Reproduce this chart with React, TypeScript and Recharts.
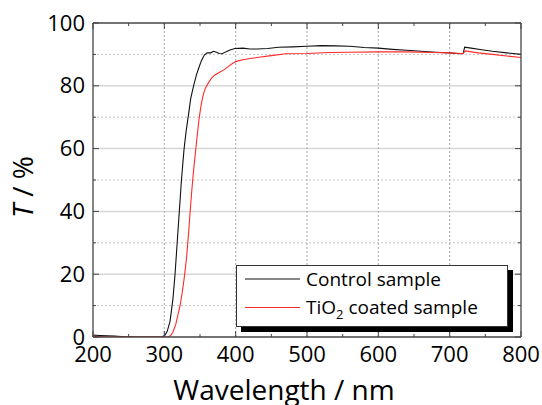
import React from 'react';
import { LineChart, Line, XAxis, YAxis, ReferenceLine, Legend } from 'recharts';

// ---- data ----
const controlWavelength = [200, 210, 220, 230, 240, 250, 260, 280, 297, 301, 304, 308, 312, 315, 318, 321, 324, 327.5, 330.5, 334, 337, 341, 345, 348, 352, 356, 360, 365, 369, 373, 377, 381, 386, 392, 399, 410, 420, 430, 445, 460, 480, 500, 520, 540, 560, 580, 600, 620, 640, 660, 680, 700, 715, 719, 721, 730, 745, 760, 780, 800];
const controlT = [0.6, 0.5, 0.4, 0.3, 0.15, 0.05, 0, 0, 0.1, 0.6, 1.8, 5, 12, 20, 30, 40, 50, 59.5, 65.5, 71, 76, 80, 83.5, 85.5, 88, 89.8, 90.5, 90.5, 91, 90.7, 90.3, 90.2, 90.8, 91.4, 91.9, 92, 91.7, 91.7, 91.9, 92.3, 92.4, 92.6, 92.8, 92.7, 92.6, 92.2, 92, 91.6, 91.3, 91, 90.7, 90.5, 90.2, 90.3, 92.3, 92, 91.5, 91, 90.5, 90];

const coatedWavelength = [200, 220, 240, 260, 280, 305, 309, 312, 316, 319, 322, 325, 328, 331, 334, 336, 339, 341, 343, 346, 349, 352, 355, 358, 362, 366, 370, 375, 380, 385, 390, 395, 400, 410, 420, 430, 450, 470, 500, 530, 560, 600, 640, 680, 700, 715, 719, 722, 740, 760, 780, 800];
const coatedT = [0.2, 0.1, 0, 0, 0, 0, 0.5, 1.5, 4, 7, 10, 14, 19, 25, 33, 39.5, 48, 53, 57.5, 64, 70, 74.5, 77.5, 79.5, 81, 82.4, 83.3, 84, 84.6, 85.3, 86.2, 87, 87.7, 88.3, 88.7, 89, 89.6, 90.2, 90.3, 90.6, 90.7, 90.8, 90.8, 90.6, 90.5, 90.3, 90.3, 91.1, 90.5, 90, 89.5, 89];

const xTicks = [200, 250, 300, 350, 400, 450, 500, 550, 600, 650, 700, 750, 800];
const yTicks = [0, 10, 20, 30, 40, 50, 60, 70, 80, 90, 100];
const xGridLines = [300, 400, 500, 600, 700];
const yMajorGrid = [20, 40, 60, 80];
const yMinorGrid = [10, 30, 50, 70, 90];
const seriesNames = ['Control sample', 'TiO2 coated sample'];
const seriesColors = ['#111111', '#ff2a2a'];

const controlData = controlWavelength.map((w, i) => ({ w, t: controlT[i] }));
const coatedData = coatedWavelength.map((w, i) => ({ w, t: coatedT[i] }));

const FONT = '"Open Sans", sans-serif';
const FRAME = '#444444';

const BottomTick = (props: any) => {
  const { x, y, payload } = props;
  const major = payload.value % 100 === 0;
  return (
    <g>
      <line x1={x} x2={x} y1={y} y2={y - (major ? 6 : 3)} stroke={FRAME} />
      {major && (
        <text x={x} y={y + 25} textAnchor="middle" fontSize={22} fontFamily={FONT} fill="#000">
          {payload.value}
        </text>
      )}
    </g>
  );
};

const TopTick = (props: any) => {
  const { x, y, payload } = props;
  const major = payload.value % 100 === 0;
  return <line x1={x} x2={x} y1={y} y2={y + (major ? 6 : 3)} stroke={FRAME} />;
};

const LeftTick = (props: any) => {
  const { x, y, payload } = props;
  const major = payload.value % 20 === 0;
  return (
    <g>
      <line x1={x} x2={x + (major ? 6 : 3)} y1={y} y2={y} stroke={FRAME} />
      {major && (
        <text x={x - 8} y={y + 7.5} textAnchor="end" fontSize={22} fontFamily={FONT} fill="#000">
          {payload.value}
        </text>
      )}
    </g>
  );
};

const RightTick = (props: any) => {
  const { x, y, payload } = props;
  const major = payload.value % 20 === 0;
  return <line x1={x} x2={x - (major ? 6 : 3)} y1={y} y2={y} stroke={FRAME} />;
};

const renderLabelName = (name: string) => {
  const m = name.match(/^(.*?)(\d)(.*)$/);
  if (!m) return name;
  return (
    <>
      <tspan>{m[1]}</tspan>
      <tspan fontSize={13} dy={5}>{m[2]}</tspan>
      <tspan dy={-5}>{m[3]}</tspan>
    </>
  );
};

const renderLegend = (props: any) => {
  const payload = props.payload || [];
  return (
    <div
      style={{
        width: 272,
        height: 62,
        boxSizing: 'border-box',
        border: '1px solid #333',
        background: '#fff',
        boxShadow: '5px 5px 0 #000',
      }}
    >
      <svg width={270} height={60} style={{ display: 'block' }}>
        {payload.map((entry: any, i: number) => {
          const cy = 13 + i * 28.5;
          return (
            <g key={i}>
              <line x1={8} x2={63} y1={cy} y2={cy} stroke={entry.color} strokeWidth={1} />
              <text x={69} y={cy + 6.5} fontSize={19} fontFamily={FONT} fill="#000">
                {renderLabelName(String(entry.value))}
              </text>
            </g>
          );
        })}
      </svg>
    </div>
  );
};

export default function App() {
  return (
    <div style={{ position: 'absolute', left: 0, top: 0, background: '#fff' }}>
      <LineChart width={542} height={405} margin={{ top: 0, right: 0, bottom: 0, left: 0 }}>
        <XAxis
          xAxisId="b"
          dataKey="w"
          type="number"
          orientation="bottom"
          domain={[200, 800]}
          ticks={xTicks}
          interval={0}
          height={68}
          tickSize={0}
          tickMargin={0}
          tickLine={false}
          axisLine={{ stroke: FRAME, strokeWidth: 1.3 }}
          tick={<BottomTick />}
          allowDataOverflow
          label={{
            content: () => (
              <text x={284} y={400} textAnchor="middle" fontSize={28} fontFamily={FONT} fill="#000">
                Wavelength / nm
              </text>
            ),
          }}
        />
        <XAxis
          xAxisId="t"
          dataKey="w"
          type="number"
          orientation="top"
          domain={[200, 800]}
          ticks={xTicks}
          interval={0}
          height={23}
          tickSize={0}
          tickMargin={0}
          tickLine={false}
          axisLine={{ stroke: FRAME, strokeWidth: 1.3 }}
          tick={<TopTick />}
          allowDataOverflow
        />
        <YAxis
          yAxisId="l"
          orientation="left"
          type="number"
          domain={[0, 100]}
          ticks={yTicks}
          interval={0}
          width={93}
          tickSize={0}
          tickMargin={0}
          tickLine={false}
          axisLine={{ stroke: FRAME, strokeWidth: 1.3 }}
          tick={<LeftTick />}
          allowDataOverflow
          label={{
            content: () => (
              <text
                x={33}
                y={187}
                transform="rotate(-90 33 187)"
                textAnchor="middle"
                fontSize={28}
                fontFamily={FONT}
                fill="#000"
              >
                <tspan fontStyle="italic">T</tspan>
                <tspan> / %</tspan>
              </text>
            ),
          }}
        />
        <YAxis
          yAxisId="r"
          orientation="right"
          type="number"
          domain={[0, 100]}
          ticks={yTicks}
          interval={0}
          width={21}
          tickSize={0}
          tickMargin={0}
          tickLine={false}
          axisLine={{ stroke: FRAME, strokeWidth: 1.3 }}
          tick={<RightTick />}
          allowDataOverflow
        />
        {yMinorGrid.map((v) => (
          <ReferenceLine key={'ym' + v} xAxisId="b" yAxisId="l" y={v} stroke="#c4c4c4" strokeDasharray="2 2" />
        ))}
        {yMajorGrid.map((v) => (
          <ReferenceLine key={'yM' + v} xAxisId="b" yAxisId="l" y={v} stroke="#d6d6d6" strokeWidth={1.5} />
        ))}
        {xGridLines.map((v) => (
          <ReferenceLine key={'x' + v} xAxisId="b" yAxisId="l" x={v} stroke="#b4b4b4" strokeDasharray="2 2" strokeWidth={1.2} />
        ))}
        <Line
          xAxisId="b"
          yAxisId="l"
          data={controlData}
          dataKey="t"
          name={seriesNames[0]}
          stroke={seriesColors[0]}
          strokeWidth={1.1}
          dot={false}
          activeDot={false}
          isAnimationActive={false}
        />
        <Line
          xAxisId="b"
          yAxisId="l"
          data={coatedData}
          dataKey="t"
          name={seriesNames[1]}
          stroke={seriesColors[1]}
          strokeWidth={1.1}
          dot={false}
          activeDot={false}
          isAnimationActive={false}
        />
        <Legend
          layout="horizontal"
          verticalAlign="middle"
          align="center"
          content={renderLegend}
          wrapperStyle={{ position: 'absolute', left: 236, top: 265, width: 272, height: 62 }}
        />
      </LineChart>
    </div>
  );
}
